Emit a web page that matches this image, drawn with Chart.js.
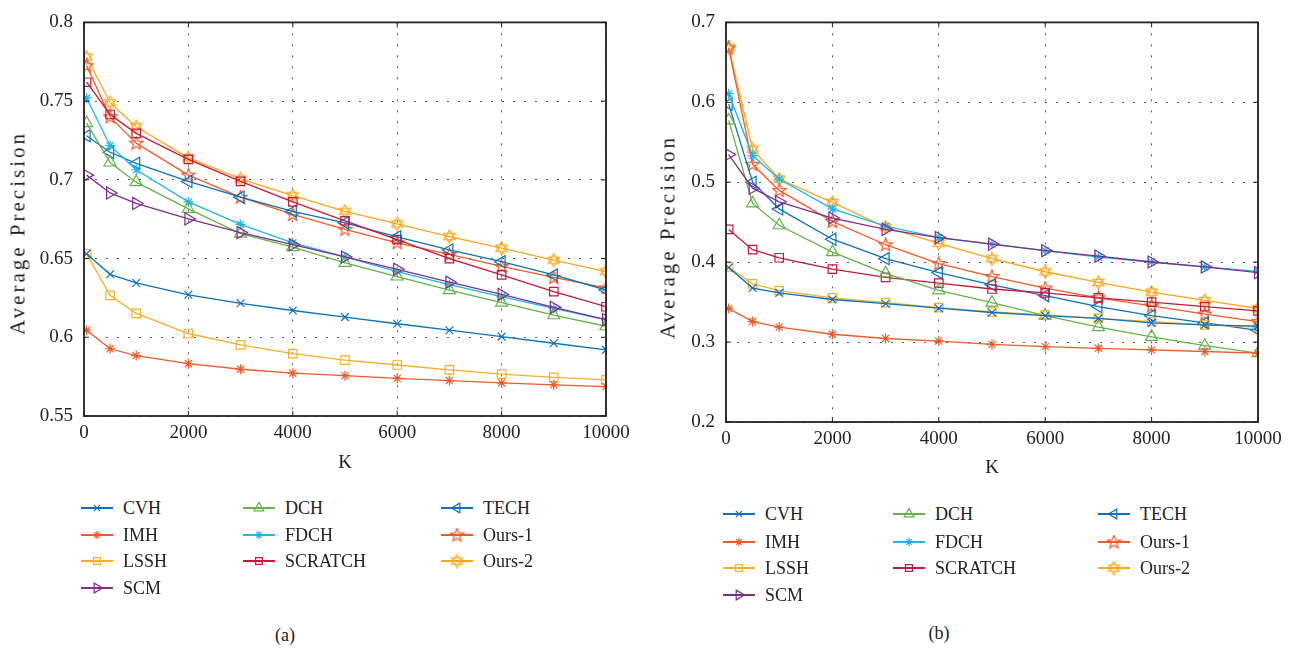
<!DOCTYPE html>
<html>
<head>
<meta charset="utf-8">
<script src="https://cdn.jsdelivr.net/npm/chart.js@4.4.1/dist/chart.umd.min.js"></script>
<style>
body { margin: 0; background: #fff; width: 1296px; height: 648px; position: relative; overflow: hidden; font-family: "Liberation Serif", serif; color: #222; }
canvas.plot { position: absolute; top: 0; }
#chartA { left: 0; }
#chartB { left: 640px; }
.ytitle { position: absolute; font-size: 21px; letter-spacing: 3px; white-space: nowrap; transform: translate(-50%, -50%) rotate(-90deg); }
.item { position: absolute; height: 22px; line-height: 22px; font-size: 18px; display: flex; align-items: center; white-space: nowrap; }
.item canvas { margin-right: 10px; }
.cap { position: absolute; font-size: 18px; transform: translate(-50%, -50%); }
</style>
</head>
<body>
<canvas id="chartA" class="plot" width="640" height="480"></canvas>
<canvas id="chartB" class="plot" width="656" height="480"></canvas>
<div class="ytitle" style="left:18px;top:233px">Average Precision</div>
<div class="ytitle" style="left:668px;top:237px">Average Precision</div>
<div id="legA"></div>
<div id="legB"></div>
<div class="cap" style="left:285px;top:635px">(a)</div>
<div class="cap" style="left:939px;top:633px">(b)</div>
<script>
const kValues = [50, 500, 1000, 2000, 3000, 4000, 5000, 6000, 7000, 8000, 9000, 10000];
const methods = ["CVH", "IMH", "LSSH", "SCM", "DCH", "FDCH", "SCRATCH", "TECH", "Ours-1", "Ours-2"];

// panel (a)
const cvhA = [0.653, 0.640, 0.6345, 0.627, 0.6216, 0.617, 0.6128, 0.6086, 0.6045, 0.6004, 0.5962, 0.592];
const imhA = [0.6045, 0.5927, 0.5884, 0.5832, 0.5797, 0.5772, 0.5756, 0.5739, 0.5725, 0.571, 0.5698, 0.5687];
const lsshA = [0.653, 0.6266, 0.6152, 0.6024, 0.5952, 0.5896, 0.5855, 0.5824, 0.5793, 0.5766, 0.5745, 0.5729];
const scmA = [0.703, 0.6917, 0.685, 0.6752, 0.6665, 0.6588, 0.651, 0.6432, 0.635, 0.6272, 0.619, 0.6112];
const dchA = [0.736, 0.711, 0.6985, 0.6816, 0.6659, 0.6572, 0.6473, 0.6386, 0.630, 0.622, 0.614, 0.607];
const fdchA = [0.752, 0.7217, 0.7064, 0.686, 0.6717, 0.660, 0.651, 0.6417, 0.6334, 0.6258, 0.6183, 0.611];
const scratchA = [0.762, 0.7415, 0.7295, 0.713, 0.699, 0.686, 0.674, 0.662, 0.650, 0.6396, 0.629, 0.6194];
const techA = [0.728, 0.7175, 0.7105, 0.699, 0.689, 0.680, 0.6727, 0.6638, 0.6555, 0.648, 0.6396, 0.630];
const ours1A = [0.7725, 0.740, 0.7233, 0.703, 0.689, 0.678, 0.6686, 0.660, 0.6526, 0.645, 0.638, 0.6314];
const ours2A = [0.778, 0.749, 0.7337, 0.714, 0.7006, 0.690, 0.680, 0.672, 0.664, 0.6566, 0.649, 0.6417];

// panel (b)
const cvhB = [0.3933, 0.3676, 0.3615, 0.3533, 0.348, 0.3424, 0.337, 0.333, 0.3297, 0.324, 0.3216, 0.32];
const imhB = [0.342, 0.3257, 0.3187, 0.3098, 0.3045, 0.3012, 0.2971, 0.2943, 0.2922, 0.2902, 0.2882, 0.2861];
const lsshB = [0.394, 0.3729, 0.3643, 0.3554, 0.3493, 0.3432, 0.3379, 0.334, 0.3297, 0.3257, 0.3216, 0.3187];
const scmB = [0.5346, 0.4926, 0.4755, 0.4552, 0.441, 0.4308, 0.4226, 0.4144, 0.4075, 0.4002, 0.394, 0.3868];
const dchB = [0.5774, 0.4735, 0.4462, 0.4125, 0.386, 0.3648, 0.3493, 0.333, 0.3187, 0.3065, 0.2955, 0.2861];
const fdchB = [0.6108, 0.5334, 0.504, 0.4666, 0.445, 0.4308, 0.4226, 0.4144, 0.4063, 0.4002, 0.394, 0.3885];
const scratchB = [0.441, 0.4156, 0.4055, 0.3912, 0.381, 0.3737, 0.3664, 0.3615, 0.3554, 0.35, 0.3444, 0.3391];
const techB = [0.5977, 0.5, 0.4666, 0.4287, 0.4043, 0.3868, 0.3717, 0.3582, 0.3444, 0.333, 0.324, 0.3147];
const ours1B = [0.668, 0.5224, 0.4898, 0.451, 0.4218, 0.3982, 0.382, 0.3676, 0.3554, 0.3452, 0.335, 0.3257];
const ours2B = [0.669, 0.5415, 0.504, 0.4748, 0.4437, 0.4235, 0.4043, 0.388, 0.3746, 0.3624, 0.3521, 0.342];

const yTicksA = [0.55, 0.6, 0.65, 0.7, 0.75, 0.8];
const yTicksB = [0.2, 0.3, 0.4, 0.5, 0.6, 0.7];
const xTicks = [0, 2000, 4000, 6000, 8000, 10000];

// hand drawn markers for pentagram / hexagram
function pentagram(color) {
    const c = document.createElement("canvas");
    c.width = 15; c.height = 15;
    const g = c.getContext("2d");
    g.strokeStyle = color; g.lineWidth = 1.2;
    g.beginPath();
    for (let i = 0; i < 10; i++) {
        const r = i % 2 ? 2.9 : 7;
        const a = -Math.PI / 2 + i * Math.PI / 5;
        const px = 7.5 + r * Math.cos(a), py = 7.8 + r * Math.sin(a);
        if (i) g.lineTo(px, py); else g.moveTo(px, py);
    }
    g.closePath();
    g.stroke();
    return c;
}

function hexagram(color) {
    const c = document.createElement("canvas");
    c.width = 15; c.height = 15;
    const g = c.getContext("2d");
    g.strokeStyle = color; g.lineWidth = 1.2;
    [-Math.PI / 2, Math.PI / 2].forEach(start => {
        g.beginPath();
        for (let i = 0; i < 3; i++) {
            const a = start + i * 2 * Math.PI / 3;
            const px = 7.5 + 6.5 * Math.cos(a), py = 7.5 + 6.5 * Math.sin(a);
            if (i) g.lineTo(px, py); else g.moveTo(px, py);
        }
        g.closePath();
        g.stroke();
    });
    return c;
}

const styles = [
    { color: "#0a72ba", point: "crossRot", radius: 5.5, rotation: 0 },
    { color: "#f05a28", point: "star", radius: 5, rotation: 0 },
    { color: "#f9ae2b", point: "rect", radius: 6, rotation: 0 },
    { color: "#7e2f8e", point: "triangle", radius: 7, rotation: 90 },
    { color: "#62b447", point: "triangle", radius: 7, rotation: 0 },
    { color: "#1bb5e8", point: "star", radius: 5, rotation: 0 },
    { color: "#c8173a", point: "rect", radius: 6, rotation: 0 },
    { color: "#0a72ba", point: "triangle", radius: 7, rotation: -90 },
    { color: "#f05a28", point: pentagram("#f05a28"), radius: 7, rotation: 0 },
    { color: "#f9a61b", point: hexagram("#f9a61b"), radius: 7, rotation: 0 }
];

function buildDatasets(series) {
    return series.map((vals, i) => ({
        label: methods[i],
        data: vals.map((v, j) => ({ x: kValues[j], y: v })),
        borderColor: styles[i].color,
        backgroundColor: "rgba(0,0,0,0)",
        pointBorderColor: styles[i].color,
        pointBackgroundColor: "rgba(0,0,0,0)",
        pointStyle: styles[i].point,
        pointRadius: styles[i].radius,
        pointRotation: styles[i].rotation,
        pointBorderWidth: 1.2,
        borderWidth: 1.3,
        tension: 0
    }));
}

const framePlugin = {
    id: "frame",
    afterDraw(chart) {
        const { ctx, chartArea: a, scales: { x, y } } = chart;
        ctx.save();
        ctx.strokeStyle = "#222";
        ctx.lineWidth = 1;
        ctx.beginPath();
        x.ticks.forEach(t => {
            const px = x.getPixelForValue(t.value);
            ctx.moveTo(px, a.bottom); ctx.lineTo(px, a.bottom - 5);
            ctx.moveTo(px, a.top); ctx.lineTo(px, a.top + 5);
        });
        y.ticks.forEach(t => {
            const py = y.getPixelForValue(t.value);
            ctx.moveTo(a.left, py); ctx.lineTo(a.left + 5, py);
            ctx.moveTo(a.right, py); ctx.lineTo(a.right - 5, py);
        });
        ctx.stroke();
        ctx.lineWidth = 1.8;
        ctx.strokeRect(a.left, a.top, a.right - a.left, a.bottom - a.top);
        ctx.restore();
    }
};

const tickFont = { family: "'Liberation Serif', serif", size: 19 };

function makeChart(id, series, yTicks, opts) {
    new Chart(document.getElementById(id), {
        type: "line",
        data: { datasets: buildDatasets(series) },
        options: {
            responsive: false,
            animation: false,
            layout: { padding: { top: 13, right: opts.right, left: 0, bottom: 0 } },
            plugins: { legend: { display: false }, tooltip: { enabled: false } },
            scales: {
                x: {
                    type: "linear",
                    min: 0,
                    max: 10000,
                    afterBuildTicks: s => { s.ticks = xTicks.map(v => ({ value: v })); },
                    afterFit: s => { s.height = opts.xHeight; },
                    ticks: { color: "#222", font: tickFont, padding: 6, maxRotation: 0, callback: v => String(v) },
                    grid: { color: "#555", lineWidth: 1, drawTicks: false },
                    border: { display: false, dash: [2, 9] },
                    title: { display: true, text: "K", color: "#222", font: tickFont, padding: { top: 0, bottom: opts.kPad } }
                },
                y: {
                    min: yTicks[0],
                    max: yTicks[yTicks.length - 1],
                    afterBuildTicks: s => { s.ticks = yTicks.map(v => ({ value: v })); },
                    afterFit: s => { s.width = opts.yWidth; },
                    ticks: { color: "#222", font: tickFont, padding: 11, callback: v => String(+v.toFixed(2)) },
                    grid: { color: "#555", lineWidth: 1, drawTicks: false },
                    border: { display: false, dash: [2, 9] }
                }
            }
        },
        plugins: [framePlugin]
    });
}

makeChart("chartA", [cvhA, imhA, lsshA, scmA, dchA, fdchA, scratchA, techA, ours1A, ours2A], yTicksA,
    { right: 34, yWidth: 84, xHeight: 64, kPad: 6 });
makeChart("chartB", [cvhB, imhB, lsshB, scmB, dchB, fdchB, scratchB, techB, ours1B, ours2B], yTicksB,
    { right: 38, yWidth: 86, xHeight: 58, kPad: 1 });

// legends, three columns filled top-down
const legendCols = [[0, 1, 2, 3], [4, 5, 6], [7, 8, 9]];

function drawSample(cv, i) {
    const g = cv.getContext("2d");
    const st = styles[i];
    g.strokeStyle = st.color;
    g.fillStyle = "rgba(0,0,0,0)";
    g.lineWidth = 2;
    g.beginPath(); g.moveTo(0, 8); g.lineTo(32, 8); g.stroke();
    g.lineWidth = 1.2;
    Chart.helpers.drawPoint(g, { pointStyle: st.point, rotation: st.rotation, radius: st.radius * 0.8, borderWidth: 1.2 }, 16, 8);
}

function buildLegend(id, colX, rowY) {
    const host = document.getElementById(id);
    legendCols.forEach((col, c) => {
        col.forEach((idx, r) => {
            const item = document.createElement("div");
            item.className = "item";
            item.style.left = colX[c] + "px";
            item.style.top = (rowY[r] - 11) + "px";
            const cv = document.createElement("canvas");
            cv.width = 32; cv.height = 16;
            item.appendChild(cv);
            item.appendChild(document.createTextNode(methods[idx]));
            host.appendChild(item);
            drawSample(cv, idx);
        });
    });
}

buildLegend("legA", [81, 243, 441], [508, 535, 561, 588]);
buildLegend("legB", [723, 893, 1098], [514, 542, 568, 595]);
</script>
</body>
</html>
